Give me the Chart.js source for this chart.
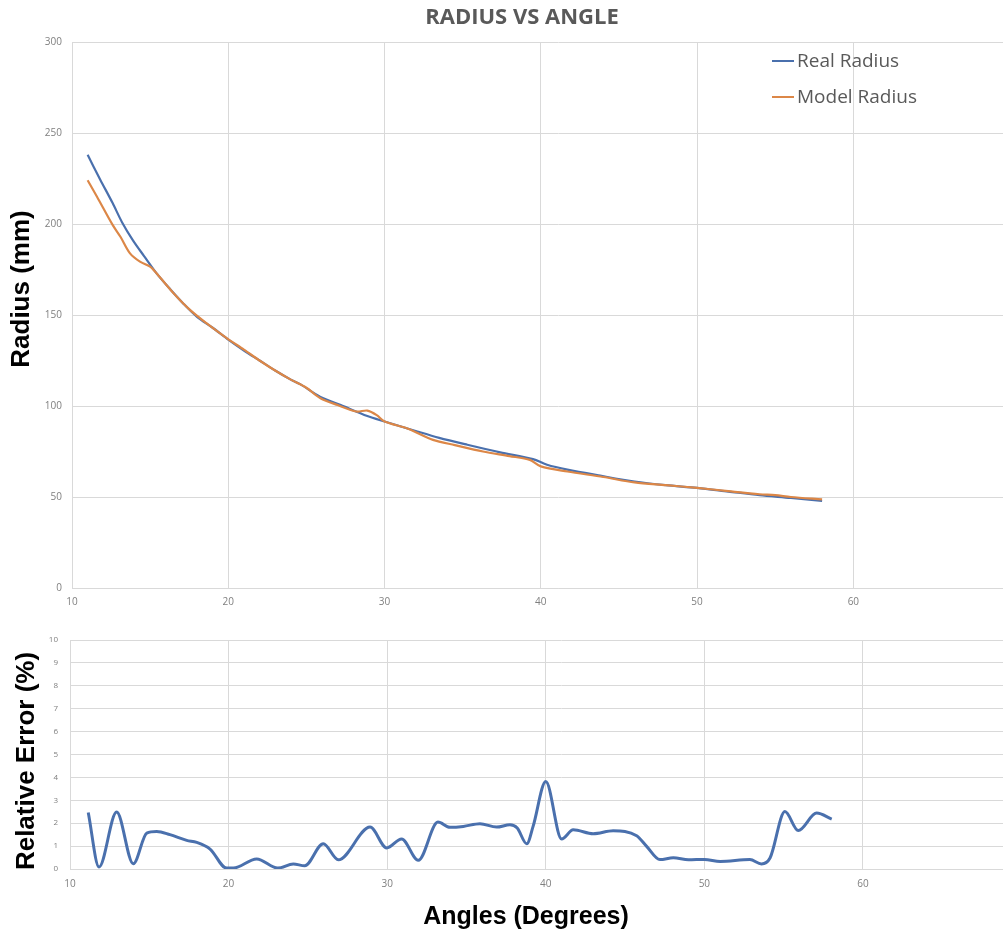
<!DOCTYPE html>
<html>
<head>
<meta charset="utf-8">
<script src="https://cdn.jsdelivr.net/npm/chart.js@4.4.1/dist/chart.umd.min.js"></script>
<style>
  html, body { margin: 0; padding: 0; background: #ffffff; overflow: hidden; width: 1003px; height: 936px; }
  #radiusChart { position: absolute; left: 0; top: 0; }
  #errorChart { position: absolute; left: 0; top: 620px; }
</style>
</head>
<body>
<canvas id="radiusChart" width="1044" height="620"></canvas>
<canvas id="errorChart" width="1052" height="316"></canvas>
<script>
// Measured radius (mm) against angle (degrees)
const realAngles = [11.0, 11.8, 12.6, 13.2, 13.9, 14.6, 15.4, 16.3, 17.1, 18.0, 19.0, 20.0, 21.0, 22.0, 23.0, 24.0, 24.6, 25.9, 27.2, 28.9, 30.0, 32.1, 33.5, 35.3, 37.4, 39.5, 40.4, 41.7, 43.8, 46.0, 48.0, 50.0, 52.0, 54.0, 56.0, 58.0];
const realRadius = [238, 224.5, 211.5, 201, 191, 182.5, 173, 164, 156.5, 149, 143, 136.5, 130.5, 125, 119.5, 114.5, 112, 105, 100.5, 94.5, 91.5, 86, 82.5, 78.7, 74.5, 70.8, 67.7, 65, 61.7, 58.5, 56.5, 55, 53, 51, 49.5, 47.8];

// Radius predicted by the model
const modelAngles = [11.0, 11.6, 12.6, 13.1, 13.7, 14.35, 15.0, 15.6, 16.5, 17.55, 18.6, 19.9, 21.0, 22.0, 23.0, 24.0, 25.0, 25.9, 27.0, 28.2, 28.9, 29.5, 30.0, 31.5, 33.1, 34.5, 36.3, 38.0, 39.3, 40.0, 41.7, 44.0, 46.0, 48.0, 50.0, 52.0, 54.0, 55.0, 56.0, 58.0];
const modelRadius = [224, 215, 199.5, 193, 184, 179.3, 176.6, 171, 162, 152.8, 145.5, 137.3, 131, 125, 119.5, 114.5, 110, 104.3, 100.5, 97, 97.5, 95, 91.5, 87.5, 81.4, 78.5, 75, 72.5, 70.4, 66.8, 64, 61, 58, 56.5, 55, 53.2, 51.5, 51, 50, 48.7];

// Relative error (%) against angle
const errorAngles = [11.15, 11.83, 12.94, 13.99, 14.84, 15.47, 16.3, 17.36, 17.99, 18.83, 19.88, 20.3, 21.77, 23.1, 24.08, 24.8, 25.97, 26.92, 28.92, 29.97, 30.91, 31.96, 33.2, 33.96, 34.8, 35.85, 36.9, 37.74, 38.2, 38.8, 39.2, 40.0, 41.0, 41.73, 42.99, 44.25, 45.73, 46.36, 47.2, 48.04, 49.0, 50.0, 51.0, 52.87, 53.6, 54.14, 55.08, 55.92, 57.08, 58.03];
const errorValues = [2.47, 0.09, 2.49, 0.23, 1.57, 1.64, 1.5, 1.25, 1.16, 0.87, 0.04, 0.04, 0.44, 0.04, 0.22, 0.14, 1.1, 0.4, 1.83, 0.92, 1.31, 0.38, 2.05, 1.82, 1.86, 1.98, 1.83, 1.93, 1.79, 1.1, 1.86, 3.82, 1.31, 1.71, 1.54, 1.67, 1.45, 0.99, 0.41, 0.49, 0.4, 0.42, 0.33, 0.41, 0.22, 0.48, 2.51, 1.68, 2.44, 2.18];

// Tick labels
const angleTicks = [10, 20, 30, 40, 50, 60];
const radiusTicks = [0, 50, 100, 150, 200, 250, 300];
const errorTicks = [0, 1, 2, 3, 4, 5, 6, 7, 8, 9, 10];

const BLUE = '#4a70ad';
const ORANGE = '#dc8747';
const GRID = '#d9d9d9';
const TICK_COLOR = '#7f7f7f';

const toPoints = (xs, ys) => xs.map((x, i) => ({ x, y: ys[i] }));
const fixedTicks = values => scale => { scale.ticks = values.map(v => ({ value: v })); };

// Rotated axis caption drawn at a chosen spot beside the plot
const sideTitle = {
  id: 'sideTitle',
  afterDraw(chart, args, opts) {
    if (!opts || !opts.text) return;
    const ctx = chart.ctx;
    ctx.save();
    ctx.translate(opts.x, opts.y);
    ctx.rotate(-Math.PI / 2);
    ctx.font = opts.font;
    ctx.fillStyle = opts.color;
    ctx.textAlign = 'center';
    ctx.textBaseline = 'middle';
    ctx.fillText(opts.text, 0, 0);
    ctx.restore();
  }
};

// Stacked legend with short line samples, placed inside the plot
const lineLegend = {
  id: 'lineLegend',
  afterDraw(chart, args, opts) {
    if (!opts || !opts.display) return;
    const ctx = chart.ctx;
    ctx.save();
    ctx.font = opts.font;
    ctx.textBaseline = 'middle';
    ctx.textAlign = 'left';
    chart.data.datasets.forEach((ds, i) => {
      const y = opts.y + i * opts.spacing;
      ctx.strokeStyle = ds.borderColor;
      ctx.lineWidth = opts.lineWidth;
      ctx.beginPath();
      ctx.moveTo(opts.x, y);
      ctx.lineTo(opts.x + opts.length, y);
      ctx.stroke();
      ctx.fillStyle = opts.color;
      ctx.fillText(ds.label, opts.x + opts.length + opts.gap, y + 1);
    });
    ctx.restore();
  }
};

new Chart(document.getElementById('radiusChart'), {
  type: 'line',
  data: {
    datasets: [
      { label: 'Real Radius', data: toPoints(realAngles, realRadius), borderColor: BLUE, borderWidth: 2.2, pointRadius: 0, tension: 0.3, order: 1 },
      { label: 'Model Radius', data: toPoints(modelAngles, modelRadius), borderColor: ORANGE, borderWidth: 2.2, pointRadius: 0, tension: 0.3, order: 0 }
    ]
  },
  options: {
    responsive: false,
    animation: false,
    layout: { padding: 0 },
    scales: {
      x: {
        type: 'linear', min: 10, max: 72.2,
        afterBuildTicks: fixedTicks(angleTicks),
        afterFit: s => { s.height = 32; },
        grid: { color: GRID, drawTicks: false },
        border: { color: GRID },
        ticks: { color: TICK_COLOR, font: { family: 'Open Sans', size: 10 }, padding: 8, maxRotation: 0 }
      },
      y: {
        type: 'linear', min: 0, max: 300,
        afterBuildTicks: fixedTicks(radiusTicks),
        afterFit: s => { s.width = 72; },
        grid: { color: GRID, drawTicks: false },
        border: { color: GRID },
        ticks: { color: TICK_COLOR, font: { family: 'Open Sans', size: 10 }, padding: 10 }
      }
    },
    plugins: {
      legend: { display: false },
      tooltip: { enabled: false },
      title: {
        display: true,
        text: 'RADIUS VS ANGLE',
        color: '#595959',
        font: { family: 'Open Sans', size: 22, weight: 'bold' },
        padding: { top: 5, bottom: 10.6 }
      },
      sideTitle: { text: 'Radius (mm)', x: 22, y: 289, font: 'bold 26px "Liberation Sans", Arial, sans-serif', color: '#000000' },
      lineLegend: { display: true, x: 772, y: 61, spacing: 36, length: 22, gap: 3, lineWidth: 2, font: '19px "Open Sans", sans-serif', color: '#595959' }
    }
  },
  plugins: [sideTitle, lineLegend]
});

new Chart(document.getElementById('errorChart'), {
  type: 'line',
  data: {
    datasets: [
      { label: 'Relative Error', data: toPoints(errorAngles, errorValues), borderColor: BLUE, borderWidth: 3, pointRadius: 0, cubicInterpolationMode: 'monotone' }
    ]
  },
  options: {
    responsive: false,
    animation: false,
    layout: { padding: { top: 20 } },
    scales: {
      x: {
        type: 'linear', min: 10, max: 71.92,
        afterBuildTicks: fixedTicks(angleTicks),
        afterFit: s => { s.height = 25; },
        grid: { color: GRID, drawTicks: false },
        border: { color: GRID },
        ticks: { color: TICK_COLOR, font: { family: 'Open Sans', size: 10 }, padding: 9, maxRotation: 0 }
      },
      y: {
        type: 'linear', min: 0, max: 10,
        afterBuildTicks: fixedTicks(errorTicks),
        afterFit: s => { s.width = 70; },
        grid: { color: GRID, drawTicks: false },
        border: { color: GRID },
        ticks: { color: TICK_COLOR, font: { family: 'Open Sans', size: 8 }, padding: 12 }
      }
    },
    plugins: {
      legend: { display: false },
      tooltip: { enabled: false },
      title: {
        display: true,
        position: 'bottom',
        text: 'Angles (Degrees)',
        color: '#000000',
        font: { family: 'Liberation Sans', size: 25, weight: 'bold' },
        padding: { top: 8, bottom: 4 }
      },
      sideTitle: { text: 'Relative Error (%)', x: 27, y: 141, font: 'bold 26px "Liberation Sans", Arial, sans-serif', color: '#000000' }
    }
  },
  plugins: [sideTitle]
});
</script>
</body>
</html>
